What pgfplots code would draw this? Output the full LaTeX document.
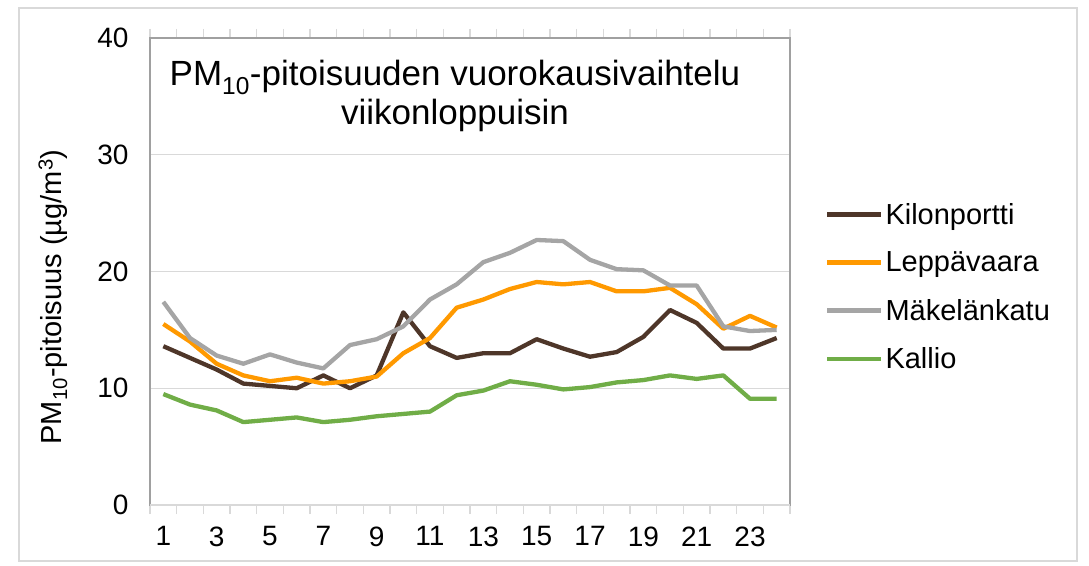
\documentclass[border=0pt]{standalone}
\usepackage{fontspec}
\setmainfont{Liberation Sans}
\usepackage{pgfplots}
\pgfplotsset{compat=1.18}
\definecolor{kilo}{HTML}{4E3629}
\definecolor{lepp}{HTML}{FF9900}
\definecolor{make}{HTML}{A5A5A5}
\definecolor{kall}{HTML}{70AD47}
\definecolor{gridgray}{HTML}{D9D9D9}
\definecolor{axisgray}{HTML}{A0A0A0}
\begin{document}
\begin{tikzpicture}[x=1pt,y=1pt]
\useasboundingbox (0,0) rectangle (1089,565);
\draw[color=gridgray, line width=1.2pt] (19,4) rectangle (1077,557);
\begin{axis}[
  at={(150pt,60pt)}, anchor=south west,
  scale only axis, width=640pt, height=467pt,
  xmin=0.5, xmax=24.5, ymin=0, ymax=40,
  xtick={1,3,...,23}, minor xtick={0.5,1.5,...,24.5},
  ytick={0,10,20,30,40},
  ymajorgrids, major grid style={color=gridgray, line width=1.5pt},
  axis line style={color=axisgray, line width=1.2pt},
  major tick length=0pt, minor tick length=9pt, tick align=outside,
  minor tick style={color=gridgray, line width=1.2pt},
  tick label style={font=\fontsize{28}{33}\selectfont},
  /pgf/number format/assume math mode=true,
  yticklabel style={xshift=-18pt},
  xticklabel style={yshift=-18pt},
  legend style={at={(1.05,0.655)}, anchor=north west, draw=none, fill=none,
    font=\fontsize{29}{34}\selectfont, row sep=22pt},
  legend cell align=left,
  legend image code/.code={\draw[#1] (0pt,0pt) -- (54pt,0pt);},
  every axis plot/.append style={line width=4.3pt, line join=round, mark=none},
]
\draw[gridgray, line width=1.5pt] (rel axis cs:0,0) -- (rel axis cs:1,0);
\addplot[kilo] coordinates {(1,13.6)(2,12.6)(3,11.6)(4,10.4)(5,10.2)(6,10.0)(7,11.1)(8,10.0)(9,11.1)(10,16.5)(11,13.6)(12,12.6)(13,13.0)(14,13.0)(15,14.2)(16,13.4)(17,12.7)(18,13.1)(19,14.4)(20,16.7)(21,15.6)(22,13.4)(23,13.4)(24,14.3)};
\addlegendentry{Kilonportti}
\addplot[lepp] coordinates {(1,15.5)(2,14.0)(3,12.1)(4,11.1)(5,10.6)(6,10.9)(7,10.4)(8,10.6)(9,11.0)(10,13.0)(11,14.3)(12,16.9)(13,17.6)(14,18.5)(15,19.1)(16,18.9)(17,19.1)(18,18.3)(19,18.3)(20,18.6)(21,17.2)(22,15.1)(23,16.2)(24,15.2)};
\addlegendentry{Leppävaara}
\addplot[make] coordinates {(1,17.4)(2,14.3)(3,12.8)(4,12.1)(5,12.9)(6,12.2)(7,11.7)(8,13.7)(9,14.2)(10,15.3)(11,17.6)(12,18.9)(13,20.8)(14,21.6)(15,22.7)(16,22.6)(17,21.0)(18,20.2)(19,20.1)(20,18.8)(21,18.8)(22,15.3)(23,14.9)(24,15.0)};
\addlegendentry{Mäkelänkatu}
\addplot[kall] coordinates {(1,9.5)(2,8.6)(3,8.1)(4,7.1)(5,7.3)(6,7.5)(7,7.1)(8,7.3)(9,7.6)(10,7.8)(11,8.0)(12,9.4)(13,9.8)(14,10.6)(15,10.3)(16,9.9)(17,10.1)(18,10.5)(19,10.7)(20,11.1)(21,10.8)(22,11.1)(23,9.1)(24,9.1)};
\addlegendentry{Kallio}
\end{axis}
\node[align=center, font=\fontsize{35}{39}\selectfont] at (455,469) {PM\textsubscript{10}-pitoisuuden vuorokausivaihtelu\\viikonloppuisin};
\node[rotate=90, font=\fontsize{29}{34}\selectfont] at (53,268) {PM\textsubscript{10}-pitoisuus (µg/m\textsuperscript{3})};
\end{tikzpicture}
\end{document}
